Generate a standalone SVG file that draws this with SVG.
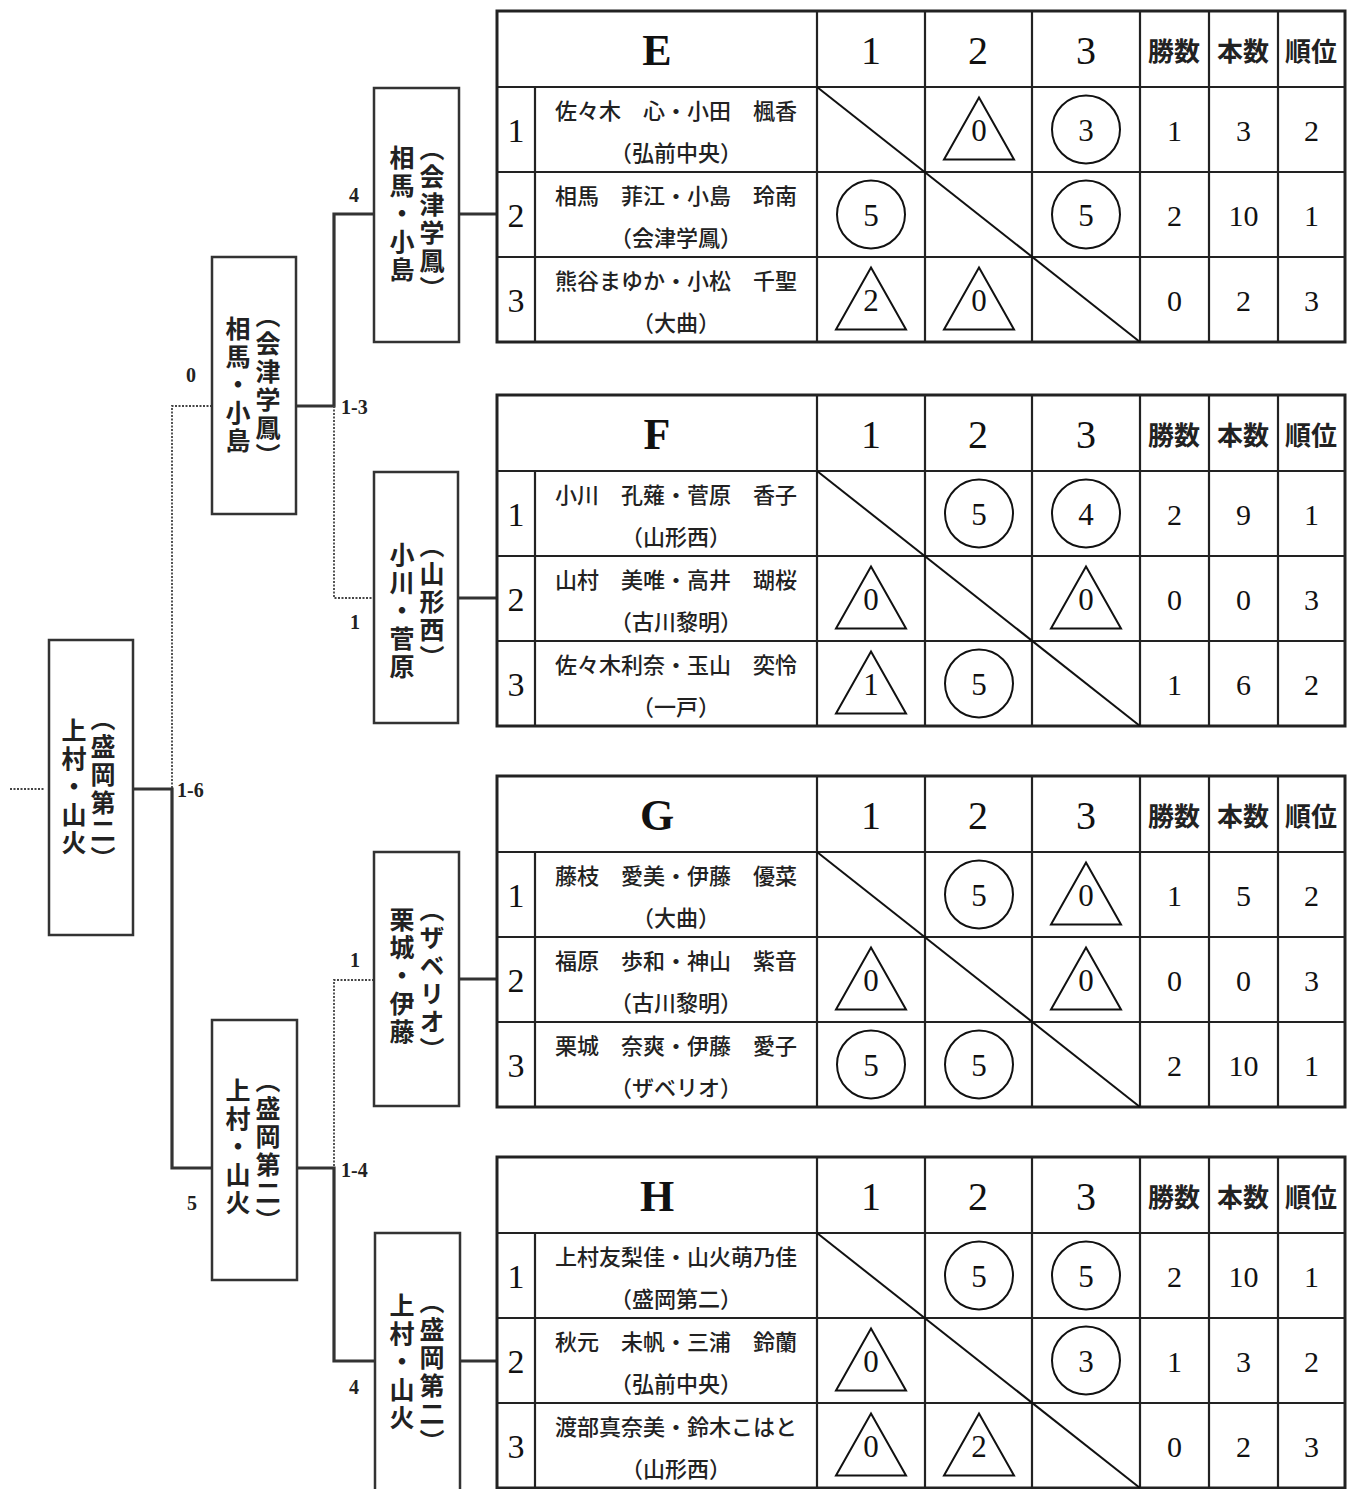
<svg xmlns="http://www.w3.org/2000/svg" width="1356" height="1489" viewBox="0 0 1356 1489">
<style>
.bg{fill:#fff}
.tb{fill:none;stroke:#222;stroke-width:2.2}
.tbo{fill:none;stroke:#222;stroke-width:3}
.box{fill:#fff;stroke:#333;stroke-width:2.5}
.win{fill:none;stroke:#333;stroke-width:3.2}
.lose{fill:none;stroke:#444;stroke-width:1.8;stroke-dasharray:2 1.5}
.shp{fill:none;stroke:#111;stroke-width:2}
.vt{font-family:"Noto Sans CJK JP","Noto Sans CJK SC",sans-serif;font-size:25px;font-weight:bold;fill:#222;letter-spacing:3px}
.nm{font-family:"Noto Sans CJK JP","Noto Sans CJK SC",sans-serif;font-size:22px;font-weight:500;fill:#222;text-anchor:middle;dominant-baseline:central}
.hd{font-family:"Noto Sans CJK JP","Noto Sans CJK SC",sans-serif;font-size:26px;font-weight:bold;fill:#222;text-anchor:middle;dominant-baseline:central}
.ttl{font-family:"Liberation Serif",serif;font-size:44px;font-weight:bold;fill:#111;text-anchor:middle;dominant-baseline:central}
.hn{font-family:"Liberation Serif",serif;font-size:40px;fill:#111;text-anchor:middle;dominant-baseline:central}
.rn{font-family:"Liberation Serif",serif;font-size:34px;fill:#111;text-anchor:middle;dominant-baseline:central}
.sn{font-family:"Liberation Serif",serif;font-size:31px;fill:#111;text-anchor:middle;dominant-baseline:central}
.st{font-family:"Liberation Serif",serif;font-size:30px;fill:#111;text-anchor:middle;dominant-baseline:central}
.lb{font-family:"Liberation Serif",serif;font-size:20px;font-weight:bold;fill:#222;dominant-baseline:central}
</style>
<defs>
<circle id="ci" r="34" class="shp"/>
<path id="tri" d="M0,-32 L35,30 L-35,30 Z" class="shp"/>
</defs>
<rect class="bg" x="0" y="0" width="1356" height="1489"/>

<g id="connectors">
<path class="win" d="M459,214 H497"/>
<path class="win" d="M458,598 H497"/>
<path class="win" d="M459,979 H497"/>
<path class="win" d="M460,1361 H497"/>
<path class="win" d="M374,214 H334 V406 H296"/>
<path class="lose" d="M334,406 V598 H374"/>
<path class="lose" d="M212,406 H172 V789"/>
<path class="win" d="M133,789 H172 V1168 H212"/>
<path class="lose" d="M374,980 H334 V1168"/>
<path class="win" d="M297,1168 H334 V1361 H374"/>
<path class="lose" d="M10,789 H45"/>
<text class="lb" x="349" y="195">4</text>
<text class="lb" x="341" y="407">1-3</text>
<text class="lb" x="350" y="622">1</text>
<text class="lb" x="186" y="375">0</text>
<text class="lb" x="177" y="790">1-6</text>
<text class="lb" x="350" y="960">1</text>
<text class="lb" x="341" y="1170">1-4</text>
<text class="lb" x="187" y="1203">5</text>
<text class="lb" x="349" y="1387">4</text>
</g>

<g id="box-final">
<rect class="box" x="49" y="640" width="84" height="295"/>
<text class="vt" x="103" y="790" writing-mode="vertical-rl" text-anchor="middle">（盛岡第二）</text>
<text class="vt" x="74" y="788" writing-mode="vertical-rl" text-anchor="middle">上村・山火</text>
</g>
<g id="box-semi-top">
<rect class="box" x="212" y="257" width="84" height="257"/>
<text class="vt" x="268" y="387" writing-mode="vertical-rl" text-anchor="middle">（会津学鳳）</text>
<text class="vt" x="238" y="386" writing-mode="vertical-rl" text-anchor="middle">相馬・小島</text>
</g>
<g id="box-semi-bottom">
<rect class="box" x="212" y="1020" width="85" height="260"/>
<text class="vt" x="268" y="1152" writing-mode="vertical-rl" text-anchor="middle">（盛岡第二）</text>
<text class="vt" x="238" y="1148" writing-mode="vertical-rl" text-anchor="middle">上村・山火</text>
</g>
<g id="box-E">
<rect class="box" x="374" y="88" width="85" height="254"/>
<text class="vt" x="432" y="220" writing-mode="vertical-rl" text-anchor="middle">（会津学鳳）</text>
<text class="vt" x="402" y="215" writing-mode="vertical-rl" text-anchor="middle">相馬・小島</text>
</g>
<g id="box-F">
<rect class="box" x="374" y="472" width="84" height="251"/>
<text class="vt" x="432" y="603" writing-mode="vertical-rl" text-anchor="middle">（山形西）</text>
<text class="vt" x="402" y="612" writing-mode="vertical-rl" text-anchor="middle">小川・菅原</text>
</g>
<g id="box-G">
<rect class="box" x="374" y="852" width="85" height="254"/>
<text class="vt" x="432" y="981" writing-mode="vertical-rl" text-anchor="middle">（ザベリオ）</text>
<text class="vt" x="402" y="977" writing-mode="vertical-rl" text-anchor="middle">栗城・伊藤</text>
</g>
<g id="box-H">
<rect class="box" x="375" y="1233" width="85" height="262"/>
<text class="vt" x="432" y="1373" writing-mode="vertical-rl" text-anchor="middle">（盛岡第二）</text>
<text class="vt" x="402" y="1363" writing-mode="vertical-rl" text-anchor="middle">上村・山火</text>
</g>

<g id="table-E">
<rect class="tbo" x="497" y="11" width="848" height="331"/>
<path class="tb" d="M497,87 H1345 M497,172 H1345 M497,257 H1345 M535,87 V342 M817,11 V342 M925,11 V342 M1032,11 V342 M1140,11 V342 M1209,11 V342 M1278,11 V342"/>
<path class="shp" d="M817,87 L1140,342"/>
<text class="ttl" x="657" y="50">E</text>
<text class="hn" x="871" y="50">1</text><text class="hn" x="978" y="50">2</text><text class="hn" x="1086" y="50">3</text>
<text class="hd" x="1174" y="49">勝数</text><text class="hd" x="1243" y="49">本数</text><text class="hd" x="1311" y="49">順位</text>
<text class="rn" x="516" y="130">1</text><text class="rn" x="516" y="215">2</text><text class="rn" x="516" y="300">3</text>
<text class="nm" x="676" y="109">佐々木　心・小田　楓香</text><text class="nm" x="676" y="151">（弘前中央）</text>
<text class="nm" x="676" y="194">相馬　菲江・小島　玲南</text><text class="nm" x="676" y="236">（会津学鳳）</text>
<text class="nm" x="676" y="279">熊谷まゆか・小松　千聖</text><text class="nm" x="676" y="321">（大曲）</text>
<use href="#tri" x="979" y="129.5"/><text class="sn" x="979" y="130">0</text>
<use href="#ci" x="1086" y="129.5"/><text class="sn" x="1086" y="130">3</text>
<use href="#ci" x="871" y="214.5"/><text class="sn" x="871" y="215">5</text>
<use href="#ci" x="1086" y="214.5"/><text class="sn" x="1086" y="215">5</text>
<use href="#tri" x="871" y="299.5"/><text class="sn" x="871" y="300">2</text>
<use href="#tri" x="979" y="299.5"/><text class="sn" x="979" y="300">0</text>
<text class="st" x="1174.5" y="130">1</text><text class="st" x="1243.5" y="130">3</text><text class="st" x="1311.5" y="130">2</text>
<text class="st" x="1174.5" y="215">2</text><text class="st" x="1243.5" y="215">10</text><text class="st" x="1311.5" y="215">1</text>
<text class="st" x="1174.5" y="300">0</text><text class="st" x="1243.5" y="300">2</text><text class="st" x="1311.5" y="300">3</text>
</g>

<g id="table-F">
<rect class="tbo" x="497" y="395" width="848" height="331"/>
<path class="tb" d="M497,471 H1345 M497,556 H1345 M497,641 H1345 M535,471 V726 M817,395 V726 M925,395 V726 M1032,395 V726 M1140,395 V726 M1209,395 V726 M1278,395 V726"/>
<path class="shp" d="M817,471 L1140,726"/>
<text class="ttl" x="657" y="434">F</text>
<text class="hn" x="871" y="434">1</text><text class="hn" x="978" y="434">2</text><text class="hn" x="1086" y="434">3</text>
<text class="hd" x="1174" y="433">勝数</text><text class="hd" x="1243" y="433">本数</text><text class="hd" x="1311" y="433">順位</text>
<text class="rn" x="516" y="514">1</text><text class="rn" x="516" y="599">2</text><text class="rn" x="516" y="684">3</text>
<text class="nm" x="676" y="493">小川　孔薙・菅原　香子</text><text class="nm" x="676" y="535">（山形西）</text>
<text class="nm" x="676" y="578">山村　美唯・高井　瑚桜</text><text class="nm" x="676" y="620">（古川黎明）</text>
<text class="nm" x="676" y="663">佐々木利奈・玉山　奕怜</text><text class="nm" x="676" y="705">（一戸）</text>
<use href="#ci" x="979" y="513.5"/><text class="sn" x="979" y="514">5</text>
<use href="#ci" x="1086" y="513.5"/><text class="sn" x="1086" y="514">4</text>
<use href="#tri" x="871" y="598.5"/><text class="sn" x="871" y="599">0</text>
<use href="#tri" x="1086" y="598.5"/><text class="sn" x="1086" y="599">0</text>
<use href="#tri" x="871" y="683.5"/><text class="sn" x="871" y="684">1</text>
<use href="#ci" x="979" y="683.5"/><text class="sn" x="979" y="684">5</text>
<text class="st" x="1174.5" y="514">2</text><text class="st" x="1243.5" y="514">9</text><text class="st" x="1311.5" y="514">1</text>
<text class="st" x="1174.5" y="599">0</text><text class="st" x="1243.5" y="599">0</text><text class="st" x="1311.5" y="599">3</text>
<text class="st" x="1174.5" y="684">1</text><text class="st" x="1243.5" y="684">6</text><text class="st" x="1311.5" y="684">2</text>
</g>

<g id="table-G">
<rect class="tbo" x="497" y="776" width="848" height="331"/>
<path class="tb" d="M497,852 H1345 M497,937 H1345 M497,1022 H1345 M535,852 V1107 M817,776 V1107 M925,776 V1107 M1032,776 V1107 M1140,776 V1107 M1209,776 V1107 M1278,776 V1107"/>
<path class="shp" d="M817,852 L1140,1107"/>
<text class="ttl" x="657" y="815">G</text>
<text class="hn" x="871" y="815">1</text><text class="hn" x="978" y="815">2</text><text class="hn" x="1086" y="815">3</text>
<text class="hd" x="1174" y="814">勝数</text><text class="hd" x="1243" y="814">本数</text><text class="hd" x="1311" y="814">順位</text>
<text class="rn" x="516" y="895">1</text><text class="rn" x="516" y="980">2</text><text class="rn" x="516" y="1065">3</text>
<text class="nm" x="676" y="874">藤枝　愛美・伊藤　優菜</text><text class="nm" x="676" y="916">（大曲）</text>
<text class="nm" x="676" y="959">福原　歩和・神山　紫音</text><text class="nm" x="676" y="1001">（古川黎明）</text>
<text class="nm" x="676" y="1044">栗城　奈爽・伊藤　愛子</text><text class="nm" x="676" y="1086">（ザベリオ）</text>
<use href="#ci" x="979" y="894.5"/><text class="sn" x="979" y="895">5</text>
<use href="#tri" x="1086" y="894.5"/><text class="sn" x="1086" y="895">0</text>
<use href="#tri" x="871" y="979.5"/><text class="sn" x="871" y="980">0</text>
<use href="#tri" x="1086" y="979.5"/><text class="sn" x="1086" y="980">0</text>
<use href="#ci" x="871" y="1064.5"/><text class="sn" x="871" y="1065">5</text>
<use href="#ci" x="979" y="1064.5"/><text class="sn" x="979" y="1065">5</text>
<text class="st" x="1174.5" y="895">1</text><text class="st" x="1243.5" y="895">5</text><text class="st" x="1311.5" y="895">2</text>
<text class="st" x="1174.5" y="980">0</text><text class="st" x="1243.5" y="980">0</text><text class="st" x="1311.5" y="980">3</text>
<text class="st" x="1174.5" y="1065">2</text><text class="st" x="1243.5" y="1065">10</text><text class="st" x="1311.5" y="1065">1</text>
</g>

<g id="table-H">
<rect class="tbo" x="497" y="1157" width="848" height="331"/>
<path class="tb" d="M497,1233 H1345 M497,1318 H1345 M497,1403 H1345 M535,1233 V1488 M817,1157 V1488 M925,1157 V1488 M1032,1157 V1488 M1140,1157 V1488 M1209,1157 V1488 M1278,1157 V1488"/>
<path class="shp" d="M817,1233 L1140,1488"/>
<text class="ttl" x="657" y="1196">H</text>
<text class="hn" x="871" y="1196">1</text><text class="hn" x="978" y="1196">2</text><text class="hn" x="1086" y="1196">3</text>
<text class="hd" x="1174" y="1195">勝数</text><text class="hd" x="1243" y="1195">本数</text><text class="hd" x="1311" y="1195">順位</text>
<text class="rn" x="516" y="1276">1</text><text class="rn" x="516" y="1361">2</text><text class="rn" x="516" y="1446">3</text>
<text class="nm" x="676" y="1255">上村友梨佳・山火萌乃佳</text><text class="nm" x="676" y="1297">（盛岡第二）</text>
<text class="nm" x="676" y="1340">秋元　未帆・三浦　鈴蘭</text><text class="nm" x="676" y="1382">（弘前中央）</text>
<text class="nm" x="676" y="1425">渡部真奈美・鈴木こはと</text><text class="nm" x="676" y="1467">（山形西）</text>
<use href="#ci" x="979" y="1275.5"/><text class="sn" x="979" y="1276">5</text>
<use href="#ci" x="1086" y="1275.5"/><text class="sn" x="1086" y="1276">5</text>
<use href="#tri" x="871" y="1360.5"/><text class="sn" x="871" y="1361">0</text>
<use href="#ci" x="1086" y="1360.5"/><text class="sn" x="1086" y="1361">3</text>
<use href="#tri" x="871" y="1445.5"/><text class="sn" x="871" y="1446">0</text>
<use href="#tri" x="979" y="1445.5"/><text class="sn" x="979" y="1446">2</text>
<text class="st" x="1174.5" y="1276">2</text><text class="st" x="1243.5" y="1276">10</text><text class="st" x="1311.5" y="1276">1</text>
<text class="st" x="1174.5" y="1361">1</text><text class="st" x="1243.5" y="1361">3</text><text class="st" x="1311.5" y="1361">2</text>
<text class="st" x="1174.5" y="1446">0</text><text class="st" x="1243.5" y="1446">2</text><text class="st" x="1311.5" y="1446">3</text>
</g>
</svg>
